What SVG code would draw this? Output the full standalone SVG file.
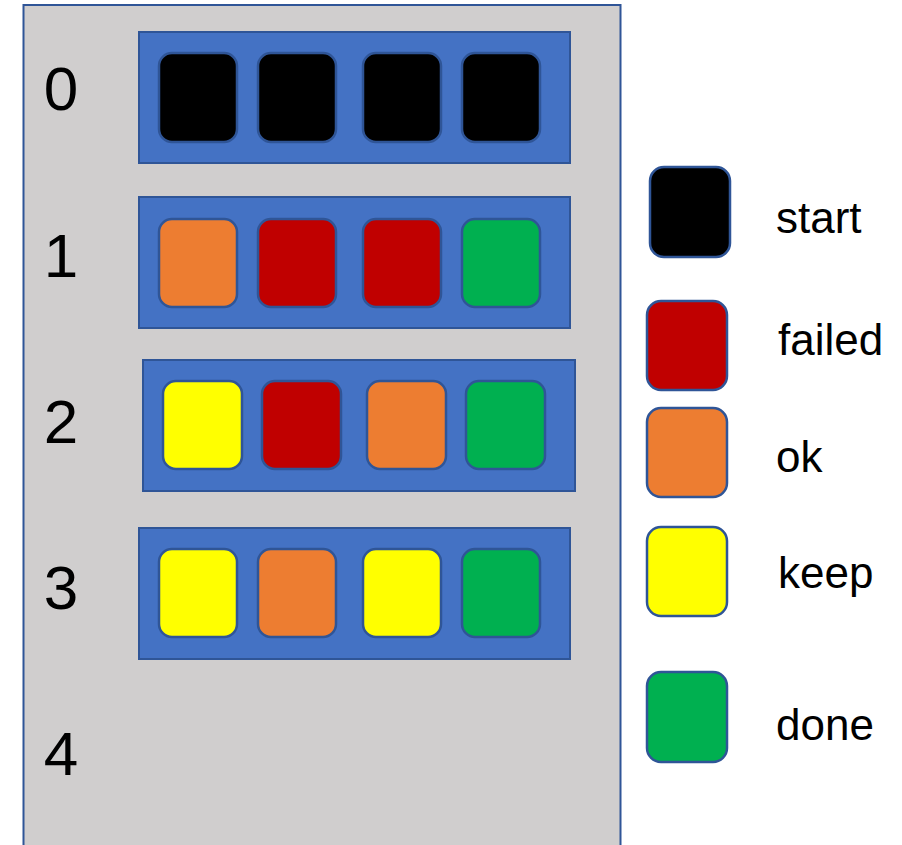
<svg xmlns="http://www.w3.org/2000/svg" width="902" height="845" viewBox="0 0 902 845">
<style>
.panel{fill:#D0CECE;stroke:#2F5597;stroke-width:2}
.row{fill:#4472C4;stroke:#2F5597;stroke-width:2}
.sq{stroke:#2F5597;stroke-width:2.5}
.blk{fill:#000000}.red{fill:#C00000}.org{fill:#ED7D31}.yel{fill:#FFFF00}.grn{fill:#00B050}
.num{font-family:"Liberation Sans",Arial,sans-serif;font-size:62px;fill:#000;text-anchor:middle}
.lbl{font-family:"Liberation Sans",Arial,sans-serif;font-size:44px;fill:#000}
</style>
<g id="panel">
<rect class="panel" x="23.5" y="5" width="597" height="860"/>
</g>
<g id="labels">
<text class="num" x="61" y="110">0</text>
<text class="num" x="61" y="277">1</text>
<text class="num" x="61" y="443">2</text>
<text class="num" x="61" y="609">3</text>
<text class="num" x="61" y="775">4</text>
</g>
<g id="row0">
<rect class="row" x="139" y="32" width="431" height="131"/>
<rect class="sq blk" x="159" y="53" width="78" height="89" rx="13"/>
<rect class="sq blk" x="258" y="53" width="78" height="89" rx="13"/>
<rect class="sq blk" x="363" y="53" width="78" height="89" rx="13"/>
<rect class="sq blk" x="462" y="53" width="78" height="89" rx="13"/>
</g>
<g id="row1">
<rect class="row" x="139" y="197" width="431" height="131"/>
<rect class="sq org" x="159" y="219" width="78" height="88" rx="13"/>
<rect class="sq red" x="258" y="219" width="78" height="88" rx="13"/>
<rect class="sq red" x="363" y="219" width="78" height="88" rx="13"/>
<rect class="sq grn" x="462" y="219" width="78" height="88" rx="13"/>
</g>
<g id="row2">
<rect class="row" x="143" y="360" width="432" height="131"/>
<rect class="sq yel" x="163" y="381" width="79" height="88" rx="13"/>
<rect class="sq red" x="262" y="381" width="79" height="88" rx="13"/>
<rect class="sq org" x="367" y="381" width="79" height="88" rx="13"/>
<rect class="sq grn" x="466" y="381" width="79" height="88" rx="13"/>
</g>
<g id="row3">
<rect class="row" x="139" y="528" width="431" height="131"/>
<rect class="sq yel" x="159" y="549" width="78" height="88" rx="13"/>
<rect class="sq org" x="258" y="549" width="78" height="88" rx="13"/>
<rect class="sq yel" x="363" y="549" width="78" height="88" rx="13"/>
<rect class="sq grn" x="462" y="549" width="78" height="88" rx="13"/>
</g>
<g id="legend-start">
<rect class="sq blk" x="650" y="167" width="80" height="90" rx="14"/>
<text class="lbl" x="776" y="233">start</text>
</g>
<g id="legend-failed">
<rect class="sq red" x="647" y="301" width="80" height="89" rx="14"/>
<text class="lbl" x="778" y="355">failed</text>
</g>
<g id="legend-ok">
<rect class="sq org" x="647" y="408" width="80" height="89" rx="14"/>
<text class="lbl" x="776" y="472">ok</text>
</g>
<g id="legend-keep">
<rect class="sq yel" x="647" y="527" width="80" height="89" rx="14"/>
<text class="lbl" x="778" y="588">keep</text>
</g>
<g id="legend-done">
<rect class="sq grn" x="647" y="672" width="80" height="90" rx="14"/>
<text class="lbl" x="776" y="740">done</text>
</g>
<g id="connectors"/>
</svg>
